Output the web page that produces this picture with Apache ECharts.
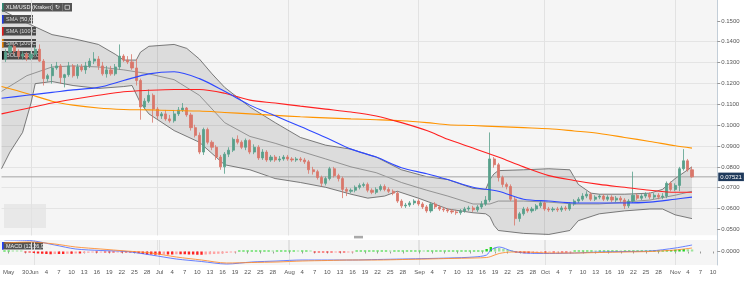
<!DOCTYPE html>
<html>
<head>
<meta charset="utf-8">
<script src="https://cdn.jsdelivr.net/npm/echarts@6.0.0/dist/echarts.min.js"></script>
<style>html,body{margin:0;padding:0;background:#fff;}#chart{width:750px;height:290px;}</style>
</head>
<body>
<div id="chart"></div>
<script>
// ================= DATA =================
const firstDay = '2019-05-25';
const dayCount = 171;               // categories: 2019-05-25 .. 2019-11-11
const candleStart = '2019-05-26';   // first candle date
const candleOpen = [
.1317,.1350,.1378,.1354,.1331,.1340,.1321,.1340,.1364,.1307,
.1223,.1237,.1274,.1284,.1228,.1242,.1284,.1237,.1279,
.1265,.1284,.1307,.1317,.1284,.1246,.1265,.1246,.1279,.1331,
.1312,.1303,.1274,.1214,.1087,.1115,.1143,.1077,.1044,.1054,
.1030,.1021,.1054,.1073,.1082,.1049,.0988,.0951,.0871,.0979,
.0918,.0894,.0847,.0800,.0861,.0880,.0932,.0918,.0894,.0927,
.0871,.0894,.0843,.0871,.0833,.0847,.0833,.0838,.0847,.0838,
.0833,.0838,.0833,.0824,.0786,.0777,.0749,.0721,.0744,.0791,
.0758,.0744,.0692,.0683,.0688,.0702,.0711,.0716,.0688,.0678,
.0692,.0706,.0692,.0683,.0674,.0636,.0613,.0617,.0627,.0636,
.0622,.0608,.0589,.0622,.0608,.0598,.0594,.0589,.0584,
.0580,.0589,.0598,.0603,.0594,.0608,.0622,.0641,.0838,.0810,
.0749,.0716,.0706,.0645,.0552,.0575,.0598,.0589,.0598,.0613,
.0627,.0598,.0594,.0598,.0594,.0603,.0598,.0622,.0636,.0645,
.0660,.0669,.0645,.0655,.0660,.0645,.0655,.0641,.0650,.0641,
.0613,.0636,.0664,.0650,.0660,.0669,.0655,.0664,.0655,.0660,
.0721,.0692,.0711,.0791,.0829,.0786];
const candleClose = [
.1350,.1378,.1354,.1331,.1340,.1321,.1340,.1364,.1307,.1223,
.1237,.1274,.1284,.1228,.1242,.1284,.1237,.1279,.1265,
.1284,.1307,.1317,.1284,.1246,.1265,.1246,.1279,.1331,.1312,
.1303,.1274,.1214,.1087,.1115,.1143,.1077,.1044,.1054,.1030,
.1021,.1054,.1073,.1082,.1049,.0988,.0951,.0871,.0979,.0918,
.0894,.0847,.0800,.0861,.0880,.0932,.0918,.0894,.0927,.0871,
.0894,.0843,.0871,.0833,.0847,.0833,.0838,.0847,.0838,.0833,
.0838,.0833,.0824,.0786,.0777,.0749,.0721,.0744,.0791,.0758,
.0744,.0692,.0683,.0688,.0702,.0711,.0716,.0688,.0678,.0692,
.0706,.0692,.0683,.0674,.0636,.0613,.0617,.0627,.0636,.0622,
.0608,.0589,.0622,.0608,.0598,.0594,.0589,.0584,.0580,
.0589,.0598,.0603,.0594,.0608,.0622,.0641,.0838,.0810,.0749,
.0716,.0706,.0645,.0552,.0575,.0598,.0589,.0598,.0613,.0627,
.0598,.0594,.0598,.0594,.0603,.0598,.0622,.0636,.0645,.0660,
.0669,.0645,.0655,.0660,.0645,.0655,.0641,.0650,.0641,.0613,
.0636,.0664,.0650,.0660,.0669,.0655,.0664,.0655,.0660,.0721,
.0692,.0711,.0791,.0829,.0786,.07521];
const candleHigh = [
.1364,.1397,.1387,.1364,.1354,.1350,.1354,.1378,.1387,.1317,
.1246,.1293,.1303,.1293,.1246,.1303,.1293,.1293,.1293,
.1303,.1321,.1350,.1331,.1303,.1284,.1284,.1293,.1387,.1340,
.1331,.1340,.1317,.1223,.1129,.1171,.1152,.1087,.1063,.1073,
.1049,.1073,.1087,.1106,.1087,.1059,.1002,.0965,.0988,.0988,
.0927,.0904,.0857,.0871,.0894,.0941,.0951,.0927,.0936,.0932,
.0908,.0904,.0885,.0880,.0857,.0857,.0852,.0857,.0857,.0847,
.0847,.0847,.0843,.0833,.0800,.0786,.0758,.0753,.0800,.0800,
.0767,.0753,.0702,.0697,.0711,.0721,.0725,.0725,.0697,.0702,
.0716,.0716,.0702,.0692,.0683,.0645,.0627,.0636,.0645,.0645,
.0631,.0617,.0631,.0631,.0617,.0608,.0603,.0598,.0594,
.0598,.0608,.0613,.0613,.0617,.0636,.0660,.0965,.0847,.0819,
.0758,.0725,.0716,.0655,.0584,.0608,.0608,.0608,.0622,.0636,
.0636,.0608,.0608,.0608,.0613,.0613,.0631,.0645,.0655,.0674,
.0683,.0678,.0664,.0669,.0669,.0664,.0664,.0660,.0660,.0650,
.0645,.0777,.0674,.0669,.0678,.0678,.0674,.0674,.0674,.0730,
.0730,.0721,.0800,.0885,.0838,.0800];
const candleLow = [
.1303,.1340,.1340,.1317,.1312,.1307,.1312,.1331,.1303,.1190,
.1209,.1199,.1265,.1199,.1181,.1232,.1228,.1223,.1256,
.1246,.1274,.1293,.1265,.1237,.1228,.1237,.1237,.1265,.1303,
.1293,.1265,.1190,.1026,.1077,.1106,.1012,.1030,.1030,.1021,
.1012,.1012,.1044,.1063,.1040,.0974,.0941,.0861,.0857,.0908,
.0880,.0833,.0786,.0767,.0847,.0871,.0908,.0885,.0880,.0861,
.0861,.0833,.0833,.0824,.0824,.0824,.0824,.0829,.0829,.0824,
.0824,.0824,.0814,.0767,.0763,.0739,.0706,.0711,.0735,.0749,
.0730,.0650,.0660,.0674,.0678,.0692,.0702,.0678,.0669,.0669,
.0683,.0683,.0674,.0664,.0627,.0603,.0603,.0608,.0617,.0613,
.0598,.0580,.0580,.0598,.0589,.0584,.0580,.0575,.0570,
.0570,.0580,.0589,.0584,.0584,.0598,.0613,.0631,.0796,.0730,
.0702,.0692,.0636,.0519,.0537,.0566,.0580,.0580,.0589,.0603,
.0589,.0584,.0584,.0584,.0584,.0589,.0589,.0613,.0627,.0636,
.0650,.0636,.0636,.0645,.0636,.0636,.0631,.0631,.0631,.0598,
.0603,.0627,.0641,.0641,.0650,.0645,.0645,.0645,.0645,.0650,
.0683,.0683,.0683,.0782,.0777,.0748];

const smaDates = ['2019-05-25','2019-05-31','2019-06-06','2019-06-11','2019-06-17','2019-06-23','2019-06-29','2019-07-05','2019-07-11','2019-07-17','2019-07-23','2019-07-29','2019-08-04','2019-08-10','2019-08-16','2019-08-22','2019-08-28','2019-09-03','2019-09-08','2019-09-14','2019-09-20','2019-09-26','2019-10-02','2019-10-08','2019-10-14','2019-10-20','2019-10-26','2019-11-01','2019-11-05'];
const sma50  = [.1129,.1143,.1157,.1169,.1181,.1214,.1246,.1256,.1223,.1162,.1096,.1045,.0993,.0941,.0885,.0847,.0796,.0767,.0739,.0702,.0683,.0645,.0636,.0627,.0627,.0627,.0631,.0645,.0655];
const sma100 = [.1054,.1080,.1106,.1124,.1143,.1160,.1167,.1171,.1171,.1153,.1120,.1106,.1091,.1077,.1063,.1044,.1012,.0974,.0932,.0890,.0847,.0800,.0758,.0735,.0716,.0702,.0688,.0678,.0678];
const sma200 = [.1185,.1152,.1115,.1096,.1082,.1075,.1073,.1070,.1068,.1061,.1054,.1047,.1040,.1035,.1030,.1026,.1021,.1012,.1002,.0998,.0993,.0988,.0983,.0972,.0960,.0941,.0922,.0901,.0890];

const bollUpperDates = ['2019-05-25','2019-05-31','2019-06-06','2019-06-11','2019-06-17','2019-06-21','2019-06-23','2019-06-26','2019-06-27','2019-06-29','2019-07-05','2019-07-08','2019-07-11','2019-07-14','2019-07-17','2019-07-23','2019-07-29','2019-08-04','2019-08-10','2019-08-16','2019-08-22','2019-08-28','2019-09-03','2019-09-08','2019-09-14','2019-09-17','2019-09-18','2019-09-19','2019-09-20','2019-09-26','2019-10-02','2019-10-07','2019-10-09','2019-10-12','2019-10-14','2019-10-20','2019-10-26','2019-10-29','2019-11-01','2019-11-05'];
const bollUpper = [.1552,.1490,.1434,.1415,.1387,.1340,.1312,.1312,.1350,.1378,.1387,.1368,.1317,.1246,.1181,.1087,.1012,.0941,.0904,.0885,.0847,.0786,.0753,.0739,.0697,.0692,.0739,.0767,.0782,.0786,.0791,.0786,.0716,.0674,.0669,.0669,.0674,.0692,.0744,.0800];
const bollLowerDates = ['2019-05-25','2019-05-27','2019-05-30','2019-06-01','2019-06-02','2019-06-06','2019-06-11','2019-06-17','2019-06-23','2019-06-25','2019-06-27','2019-06-29','2019-07-05','2019-07-11','2019-07-17','2019-07-23','2019-07-29','2019-08-04','2019-08-10','2019-08-16','2019-08-20','2019-08-24','2019-08-27','2019-09-01','2019-09-08','2019-09-14','2019-09-17','2019-09-18','2019-09-19','2019-09-20','2019-09-26','2019-10-02','2019-10-07','2019-10-09','2019-10-14','2019-10-20','2019-10-26','2019-10-29','2019-11-01','2019-11-05'];
const bollLower = [.0791,.0871,.0965,.1106,.1199,.1209,.1190,.1176,.1185,.1190,.1106,.1054,.0974,.0918,.0810,.0786,.0744,.0725,.0702,.0669,.0650,.0660,.0683,.0650,.0598,.0580,.0575,.0561,.0519,.0495,.0481,.0476,.0495,.0542,.0575,.0589,.0598,.0598,.0570,.0552];
const bollMidDates = ['2019-05-25','2019-05-31','2019-06-06','2019-06-11','2019-06-17','2019-06-23','2019-06-29','2019-07-05','2019-07-11','2019-07-17','2019-07-23','2019-07-29','2019-08-04','2019-08-10','2019-08-16','2019-08-22','2019-08-28','2019-09-03','2019-09-08','2019-09-14','2019-09-18','2019-09-20','2019-09-26','2019-10-02','2019-10-08','2019-10-14','2019-10-20','2019-10-26','2019-11-01','2019-11-05'];
const bollMid = [.1162,.1237,.1279,.1284,.1279,.1265,.1246,.1218,.1143,.1012,.0946,.0913,.0875,.0838,.0800,.0772,.0725,.0688,.0660,.0622,.0622,.0636,.0636,.0631,.0622,.0622,.0631,.0641,.0664,.0683];

const macdDates = ['2019-05-25','2019-05-31','2019-06-06','2019-06-11','2019-06-17','2019-06-23','2019-06-29','2019-07-05','2019-07-11','2019-07-17','2019-07-23','2019-07-29','2019-08-04','2019-08-10','2019-08-16','2019-08-22','2019-08-28','2019-09-03','2019-09-08','2019-09-14','2019-09-17','2019-09-18','2019-09-20','2019-09-23','2019-09-26','2019-10-02','2019-10-08','2019-10-14','2019-10-20','2019-10-26','2019-11-01','2019-11-05'];
const macdLine   = [.0046,.0044,.0026,.0010,.0004,.0000,-.0014,-.0030,-.0040,-.0050,-.0042,-.0038,-.0034,-.0034,-.0034,-.0032,-.0030,-.0028,-.0026,-.0022,-.0014,.0006,.0018,.0002,-.0006,-.0008,-.0006,-.0002,.0000,.0002,.0014,.0026];
const macdSignal = [.0034,.0038,.0030,.0018,.0010,.0002,-.0006,-.0022,-.0034,-.0046,-.0044,-.0042,-.0038,-.0036,-.0034,-.0034,-.0032,-.0030,-.0028,-.0026,-.0024,-.0020,-.0008,-.0002,-.0002,-.0006,-.0006,-.0004,-.0002,.0000,.0006,.0014];
// daily histogram from firstDay
const macdHist = [
.0002,.0003,.0002,.0001,.0000,-.0002,-.0004,
-.0006,-.0008,-.0009,-.0010,-.0011,-.0010,-.0010,-.0010,-.0009,-.0009,-.0008,-.0008,
-.0006,-.0005,-.0004,-.0004,-.0003,-.0003,-.0004,-.0004,-.0003,-.0003,-.0004,-.0004,-.0005,
-.0007,-.0010,-.0012,-.0012,-.0013,-.0013,-.0012,-.0012,-.0012,-.0011,-.0011,-.0011,-.0012,-.0012,-.0013,-.0013,-.0012,-.0011,-.0010,-.0009,-.0008,-.0006,-.0004,
-.0002,.0000,.0002,.0002,.0002,
.0002,.0002,.0002,.0002,.0001,.0002,.0002,.0002,.0002,.0002,.0001,.0001,.0001,.0000,-.0001,-.0002,
-.0003,-.0004,-.0004,-.0003,-.0004,-.0004,-.0003,-.0002,
.0001,.0002,.0002,.0002,.0002,.0002,.0002,.0002,.0001,.0001,.0001,.0001,.0002,.0002,.0002,.0002,.0001,.0001,.0001,.0002,.0002,.0002,.0002,.0002,.0002,.0002,.0002,
.0003,.0003,.0004,.0004,
.0010,.0018,.0016,.0014,.0011,.0007,
.0002,-.0004,-.0006,-.0007,-.0007,-.0006,-.0005,-.0004,-.0004,
-.0003,-.0003,-.0002,-.0002,-.0002,-.0001,
.0001,.0002,.0002,.0003,.0003,.0002,.0002,.0002,.0002,.0002,.0002,.0001,.0001,.0002,.0002,.0002,.0002,.0002,.0002,.0002,
.0003,.0004,.0005,.0006,.0007,.0008,.0010,.0009,.0008];

const priceTicks = [0.05,0.06,0.07,0.08,0.09,0.10,0.11,0.12,0.13,0.14,0.15];
const monthNames = ['Jan','Feb','Mar','Apr','May','Jun','Jul','Aug','Sep','Oct','Nov','Dec'];
const labelDays = [1,4,7,10,13,16,19,22,25,28];
const extraLabels = {'2019-05-26':'May','2019-05-30':'30'};
const legendTexts = ['XLM/USD (Kraken)','SMA (50,C)','SMA (100,C)','SMA (200,C)','BOLL (20,2,C)'];
const macdLegendText = 'MACD (12,26,9,C)';

// ================= BUILD =================
const categories = [];
(function(){
  const t0 = Date.parse(firstDay + 'T00:00:00Z');
  for (let i = 0; i < dayCount; i++) categories.push(new Date(t0 + i * 86400000).toISOString().slice(0, 10));
})();
const idx = d => categories.indexOf(d);
const c0 = idx(candleStart);
const candleData = categories.map((d, i) => {
  const k = i - c0;
  if (k < 0 || k >= candleOpen.length) return '-';
  return [candleOpen[k], candleClose[k], candleLow[k], candleHigh[k]];
});
const lastClose = candleClose[candleClose.length - 1];
const pairs = (dates, vals) => dates.map((d, k) => [idx(d), vals[k]]);

function labelText(v) {
  if (extraLabels[v]) return extraLabels[v];
  const m = +v.slice(5, 7), d = +v.slice(8, 10);
  if (m < 6) return null;
  if (d === 1) return monthNames[m - 1];
  if (labelDays.indexOf(d) >= 0) return String(d);
  return null;
}
const isLabel = (i, v) => labelText(v) !== null;
const monthStart = (i, v) => v.slice(8, 10) === '01';

const histData = macdHist.map((v, i) => {
  const prev = i > 0 ? macdHist[i - 1] : v;
  let col;
  if (v >= 0) col = v >= prev ? '#22d622' : '#9be39b';
  else col = v <= prev ? '#ff2323' : '#ffa3a3';
  return { value: v, itemStyle: { color: col } };
});

const FONT = 'Liberation Sans';
function legendBox(y, w, h, barColor, text) {
  return {
    type: 'group', x: 2, y: y, z: 200,
    children: [
      { type: 'rect', shape: { x: 0, y: 0, width: w, height: h }, style: { fill: 'rgba(62,62,62,0.88)' } },
      { type: 'rect', shape: { x: 0, y: 0, width: 1.6, height: h }, style: { fill: barColor } },
      { type: 'text', x: 4, y: h / 2 + 0.3, style: { text: text, fill: '#f0f0f0', fontSize: 5.5, fontFamily: FONT, verticalAlign: 'middle', align: 'left' } }
    ]
  };
}

const graphics = [
  { type: 'rect', z: -20, shape: { x: 0, y: 0, width: 717, height: 235.5 }, style: { fill: '#f5f5f5' } },
  { type: 'rect', z: -20, shape: { x: 0, y: 240, width: 717, height: 25 }, style: { fill: '#f5f5f5' } },
  { type: 'rect', z: -5, shape: { x: 4, y: 204, width: 42, height: 24 }, style: { fill: '#e8e8e8' } },
  { type: 'rect', z: 150, shape: { x: 0, y: 235.5, width: 716.5, height: 4.5 }, style: { fill: '#ffffff' } },
  { type: 'rect', z: 151, shape: { x: 354, y: 235.8, width: 9, height: 2.6 }, style: { fill: '#a9a9a9' } },
  legendBox(3, 70, 8.5, '#2f8a74', legendTexts[0]),
  { type: 'group', x: 2, y: 3, z: 201, children: [
      { type: 'rect', shape: { x: 50, y: 0.5, width: 0.6, height: 7.5 }, style: { fill: '#8a8a8a' } },
      { type: 'text', x: 53, y: 4.5, style: { text: '\u21bb', fill: '#eeeeee', fontSize: 6, fontFamily: 'DejaVu Sans', verticalAlign: 'middle', align: 'left' } },
      { type: 'rect', shape: { x: 60, y: 0.5, width: 0.6, height: 7.5 }, style: { fill: '#8a8a8a' } },
      { type: 'rect', shape: { x: 63, y: 2.3, width: 4.5, height: 4 }, style: { fill: 'none', stroke: '#e6e6e6', lineWidth: 0.7 } }
  ]},
  legendBox(15, 31, 8.5, '#2340ff', legendTexts[1]),
  legendBox(27, 34, 8.5, '#ff1f1f', legendTexts[2]),
  legendBox(39, 34, 8.5, '#ff9000', legendTexts[3]),
  legendBox(51, 38, 8.5, '#111111', legendTexts[4]),
  legendBox(242, 41, 7.5, '#2340ff', macdLegendText)
];

const GL = 1.53, GW = 715.7;
const option = {
  animation: false,
  backgroundColor: '#ffffff',
  grid: [
    { left: GL, top: -5.3, width: GW, height: 255.6, show: false },
    { left: GL, top: 240, width: GW, height: 25, show: false }
  ],
  xAxis: [
    { type: 'category', gridIndex: 0, data: categories, boundaryGap: false,
      axisLine: { show: false }, axisTick: { show: false }, axisLabel: { show: false },
      splitLine: { show: true, interval: monthStart, lineStyle: { color: '#e2e2e2', width: 1 } } },
    { type: 'category', gridIndex: 1, data: categories, boundaryGap: false,
      axisLine: { show: false },
      axisTick: { show: true, interval: isLabel, length: 2, lineStyle: { color: '#9a9a9a' } },
      axisLabel: { show: true, interval: isLabel, formatter: v => labelText(v) || '', fontSize: 6, color: '#555', margin: 4, fontFamily: FONT },
      splitLine: { show: true, interval: monthStart, lineStyle: { color: '#e2e2e2', width: 1 } } }
  ],
  yAxis: [
    { type: 'value', gridIndex: 0, position: 'right', min: 0.04, max: 0.16, interval: 0.01,
      axisLine: { show: true, lineStyle: { color: '#c3ced8' } },
      axisTick: { show: true, length: 3, customValues: priceTicks, lineStyle: { color: '#999' } },
      axisLabel: { fontSize: 6, color: '#555', margin: 4, fontFamily: FONT, formatter: v => v.toFixed(4), showMinLabel: false, showMaxLabel: false },
      splitLine: { show: true, showMinLine: false, showMaxLine: false, lineStyle: { color: '#e4e4e4' } } },
    { type: 'value', gridIndex: 1, position: 'right', min: -0.0054, max: 0.0046,
      axisLine: { show: true, lineStyle: { color: '#c3ced8' } },
      axisTick: { show: true, length: 3, customValues: [0], lineStyle: { color: '#999' } },
      axisLabel: { fontSize: 6, color: '#555', margin: 4, fontFamily: FONT, customValues: [0], formatter: v => v.toFixed(4) },
      splitLine: { show: false } }
  ],
  graphic: graphics,
  series: [
    { name: 'bollFill', type: 'custom', xAxisIndex: 0, yAxisIndex: 0, z: 1, silent: true,
      data: [[0, 0.1]],
      renderItem: (params, api) => {
        const pts = [];
        bollUpperDates.forEach((d, k) => pts.push(api.coord([idx(d), bollUpper[k]])));
        for (let k = bollLowerDates.length - 1; k >= 0; k--) pts.push(api.coord([idx(bollLowerDates[k]), bollLower[k]]));
        return { type: 'polygon', shape: { points: pts }, style: { fill: 'rgba(0,0,0,0.10)' } };
      } },
    { name: 'BOLL upper', type: 'line', xAxisIndex: 0, yAxisIndex: 0, z: 2, data: pairs(bollUpperDates, bollUpper), symbol: 'none', lineStyle: { color: '#5c5c5c', width: 0.8 } },
    { name: 'BOLL lower', type: 'line', xAxisIndex: 0, yAxisIndex: 0, z: 2, data: pairs(bollLowerDates, bollLower), symbol: 'none', lineStyle: { color: '#5c5c5c', width: 0.8 } },
    { name: 'BOLL mid', type: 'line', xAxisIndex: 0, yAxisIndex: 0, z: 2, data: pairs(bollMidDates, bollMid), symbol: 'none', lineStyle: { color: '#808080', width: 0.8 } },
    { name: 'Last price', type: 'line', xAxisIndex: 0, yAxisIndex: 0, z: 2, symbol: 'none', silent: true,
      data: [[0, lastClose], [categories.length - 1, lastClose]],
      lineStyle: { color: '#a4a4a4', width: 1 },
      endLabel: { show: true, distance: 1, formatter: () => lastClose.toFixed(5), color: '#ffffff', backgroundColor: '#1f3a5c', padding: [1.5, 2, 1, 2], fontSize: 6, fontFamily: FONT } },
    { name: 'XLM/USD', type: 'candlestick', xAxisIndex: 0, yAxisIndex: 0, z: 3, data: candleData, barWidth: 2.6,
      itemStyle: { color: '#57a08a', color0: '#d9776b', borderColor: '#57a08a', borderColor0: '#d9776b', borderWidth: 0.8 } },
    { name: 'SMA 200', type: 'line', xAxisIndex: 0, yAxisIndex: 0, z: 4, data: pairs(smaDates, sma200), symbol: 'none', smooth: 0.3, lineStyle: { color: '#ff9400', width: 1.1 } },
    { name: 'SMA 100', type: 'line', xAxisIndex: 0, yAxisIndex: 0, z: 4, data: pairs(smaDates, sma100), symbol: 'none', smooth: 0.3, lineStyle: { color: '#ff2020', width: 1.1 } },
    { name: 'SMA 50', type: 'line', xAxisIndex: 0, yAxisIndex: 0, z: 4, data: pairs(smaDates, sma50), symbol: 'none', smooth: 0.3, lineStyle: { color: '#2e48ff', width: 1.1 } },
    { name: 'Histogram', type: 'bar', xAxisIndex: 1, yAxisIndex: 1, z: 3, data: histData, barWidth: 2.4, barMinHeight: 1 },
    { name: 'MACD', type: 'line', xAxisIndex: 1, yAxisIndex: 1, z: 4, data: pairs(macdDates, macdLine), symbol: 'none', smooth: 0.3, lineStyle: { color: '#4d6bff', width: 1, opacity: 0.85 } },
    { name: 'Signal', type: 'line', xAxisIndex: 1, yAxisIndex: 1, z: 4, data: pairs(macdDates, macdSignal), symbol: 'none', smooth: 0.3, lineStyle: { color: '#ff8a2a', width: 1, opacity: 0.85 } }
  ]
};
const chart = echarts.init(document.getElementById('chart'), null, { renderer: 'canvas' });
chart.setOption(option);
</script>
</body>
</html>
